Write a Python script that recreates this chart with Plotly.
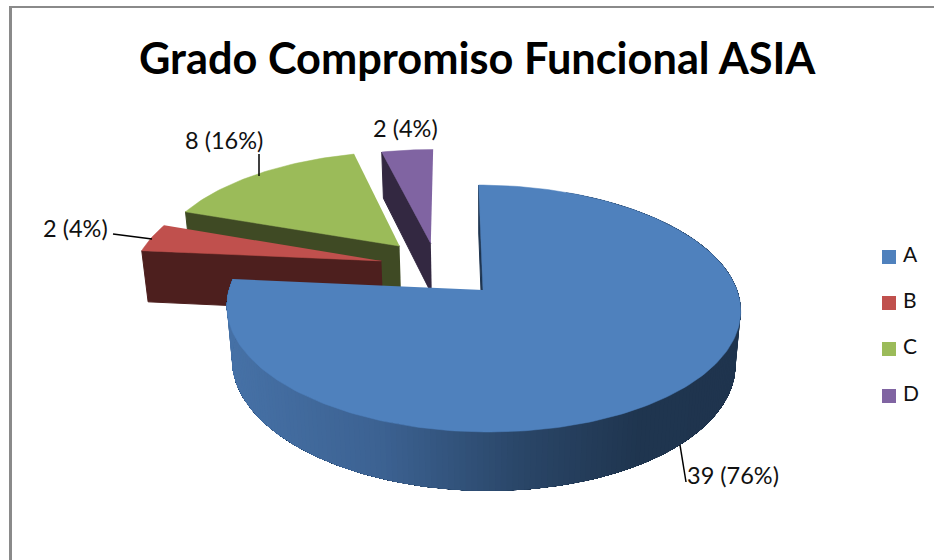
import numpy as np
import plotly.graph_objects as go

# ---- data ----
categories = ["A", "B", "C", "D"]
values = [39, 2, 8, 2]
title_text = "Grado Compromiso Funcional ASIA"

# ---- look ----
top_colors = ["#4F81BD", "#C0504D", "#9BBB59", "#8064A2"]
wall_colors = ["#1F3550", "#4D1F1E", "#3F4A24", "#332841"]
blue_wall_stops = [(230, (70, 113, 166)), (380, (60, 98, 146)), (520, (42, 70, 104)), (640, (31, 53, 79)), (740, (31, 52, 78))]
explode_u = [0.0, -0.41, -0.34, -0.21]
explode_v = [0.0, 0.25, 0.385, 0.41]
CX, CY, R, RK, P, Q, H, SHEAR = 483.0, 290.0, 254.0, 120.7, 0.15, 0.02, 54.0, -5.0
FONT = "Lato"

total = sum(values)
labels = [f"{v} ({round(100 * v / total)}%)" for v in values]
edges = np.cumsum([0] + values) / total * 2 * np.pi


def proj(u, v, z=0.0):
    s = 1.0 / (1 + P * v + Q * z)
    return CX + (R * u + SHEAR * v) * s, CY - RK * v * s + H * z * s


def arc(a0, a1, du, dv, z=0.0):
    n = max(2, int((a1 - a0) / 0.02))
    t = np.linspace(a0, a1, n)
    return proj(np.sin(t) + du, np.cos(t) + dv, z)


def rgbc(rgb):
    return "rgb(%d,%d,%d)" % tuple(int(round(c)) for c in rgb)


def blue_at(x):
    xs = [p[0] for p in blue_wall_stops]
    return rgbc([np.interp(x, xs, [p[1][i] for p in blue_wall_stops]) for i in range(3)])


fig = go.Figure()


def poly(xs, ys, color, lw=1.0):
    fig.add_trace(go.Scatter(x=list(xs), y=list(ys), mode="lines", fill="toself", fillcolor=color,
                             line=dict(color=color, width=lw), hoverinfo="skip", showlegend=False))


# back slices first, the big slice last
for i in [3, 2, 1, 0]:
    a0, a1, du, dv = edges[i], edges[i + 1], explode_u[i], explode_v[i]
    # visible radial face on the leading edge of the wedge
    ax, ay = proj(du, dv)
    bx, by = proj(np.sin(a0) + du, np.cos(a0) + dv)
    cx, cy = proj(np.sin(a0) + du, np.cos(a0) + dv, 1.0)
    ex, ey = proj(du, dv, 1.0)
    poly([ax, bx, cx, ex], [ay, by, cy, ey], wall_colors[i])
    if i == 0:
        # painter's wall: every strip reaches to the end of the arc, so no seams show
        for t0 in np.arange(a0 + 0.4, a1, 0.02):
            xa, ya = arc(t0, a1, 0, 0)
            xb, yb = arc(t0, a1, 0, 0, 1.0)
            mid = proj(np.sin(t0 + 0.01), np.cos(t0 + 0.01))[0]
            poly(np.r_[xa, xb[::-1]], np.r_[ya, yb[::-1]], blue_at(mid), 0)
    ax_, ay_ = arc(a0, a1, du, dv)
    ox, oy = proj(du, dv)
    poly(np.r_[ox, ax_], np.r_[oy, ay_], top_colors[i], 0.5)

# legend keys and names
legend_y = [257, 303, 349, 396]
fig.add_trace(go.Scatter(x=[889] * 4, y=legend_y, mode="markers",
                         marker=dict(symbol="square", size=14, color=top_colors),
                         hoverinfo="skip", showlegend=False, cliponaxis=False))
fig.add_trace(go.Scatter(x=[903] * 4, y=legend_y, mode="text", text=categories,
                         textposition="middle right", textfont=dict(family=FONT, size=21, color="#111"),
                         hoverinfo="skip", showlegend=False, cliponaxis=False))

# data labels
label_pos = [(733, 475), (75, 228), (224, 140), (405, 128)]
annotations = [dict(x=p[0], y=p[1], text=l, showarrow=False, font=dict(family=FONT, size=23.5, color="#111"),
                    xref="x", yref="y") for p, l in zip(label_pos, labels)]
annotations.append(dict(x=477, y=57, text=f"<b>{title_text}</b>", showarrow=False,
                        font=dict(family=FONT, size=43.3, color="#000"), xref="x", yref="y"))

line = dict(color="#000", width=1.5)
shapes = [
    dict(type="line", x0=680, y0=445, x1=686, y1=482, line=line),
    dict(type="line", x0=113, y0=234, x1=152, y1=239, line=line),
    dict(type="line", x0=259, y0=154, x1=259, y1=176, line=line),
    dict(type="line", x0=10.5, y0=7, x1=10.5, y1=560, line=dict(color="#8a8a8a", width=3)),
    dict(type="line", x0=9, y0=7, x1=934, y1=7, line=dict(color="#8a8a8a", width=2)),
]

fig.update_layout(
    width=934, height=560, margin=dict(l=0, r=0, t=0, b=0), paper_bgcolor="white", plot_bgcolor="white",
    xaxis=dict(range=[0, 934], visible=False, fixedrange=True),
    yaxis=dict(range=[560, 0], visible=False, fixedrange=True),
    annotations=annotations, shapes=shapes, showlegend=False,
)
fig.write_html("out.html", config=dict(displayModeBar=False),
               post_script="document.body.style.margin='0';document.documentElement.style.overflow='hidden';")
